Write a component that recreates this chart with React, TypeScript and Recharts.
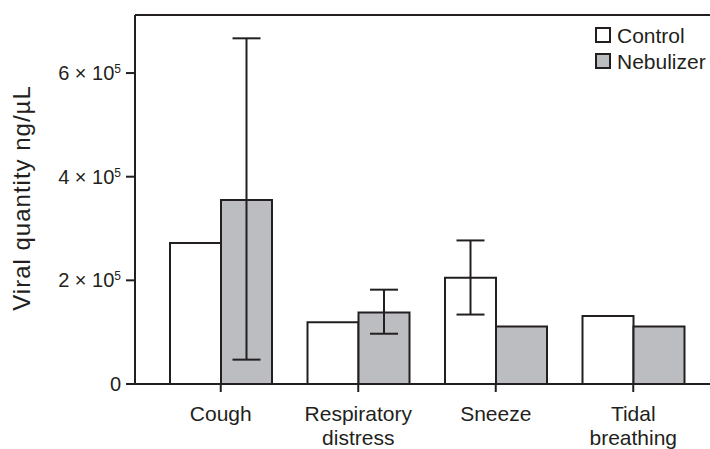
import { BarChart, Bar, XAxis, YAxis, ErrorBar, ReferenceLine } from 'recharts';

const categories = ['Cough', 'Respiratory\ndistress', 'Sneeze', 'Tidal\nbreathing'];
const controlValues = [272000, 119000, 205000, 131000];
const controlErrors: (number[] | null)[] = [null, null, [71000, 72000], null];
const nebulizerValues = [355000, 138000, 111000, 111000];
const nebulizerErrors: (number[] | null)[] = [[308000, 312000], [41000, 44000], null, null];
const yTicks = [0, 200000, 400000, 600000];
const Y_MAX = 712000;

const INK = '#231f20';
const GRAY = '#bcbdc0';
const FONT = '"Liberation Sans", Arial, sans-serif';

const data = categories.map((c, i) => ({
    name: c,
    control: controlValues[i],
    controlErr: controlErrors[i],
    nebulizer: nebulizerValues[i],
    nebulizerErr: nebulizerErrors[i],
}));

function YTick({ x, y, payload }: any) {
    const v = payload.value as number;
    if (v === 0) {
        return (
            <text x={x - 3} y={y + 7} textAnchor="end" fontSize={20} fill={INK} fontFamily={FONT}>0</text>
        );
    }
    const m = v / 100000;
    return (
        <text x={x - 3} y={y + 7} textAnchor="end" fontSize={20} fill={INK} fontFamily={FONT}>
            {m} × 10<tspan dy={-7} fontSize={12}>5</tspan>
        </text>
    );
}

function XTick({ x, y, payload }: any) {
    const lines = String(payload.value).split('\n');
    return (
        <text x={x} y={y + 27} textAnchor="middle" fontSize={21} fill={INK} fontFamily={FONT}>
            {lines.map((l, i) => (
                <tspan key={i} x={x} dy={i === 0 ? 0 : 24}>{l}</tspan>
            ))}
        </text>
    );
}

function YLabel() {
    return (
        <text
            x={30}
            y={198}
            transform="rotate(-90 30 198)"
            textAnchor="middle"
            fontSize={24}
            letterSpacing={1}
            fill={INK}
            fontFamily={FONT}
        >
            Viral quantity ng/µL
        </text>
    );
}

function LegendBox() {
    const items = [
        { label: 'Control', fill: '#ffffff' },
        { label: 'Nebulizer', fill: GRAY },
    ];
    return (
        <div style={{ position: 'absolute', left: 595, top: 22, fontFamily: FONT, fontSize: 21, color: INK, lineHeight: 1 }}>
            {items.map(it => (
                <div key={it.label} style={{ display: 'flex', alignItems: 'center', height: 26 }}>
                    <span style={{ width: 12, height: 12, border: `2px solid ${INK}`, background: it.fill, marginRight: 6, display: 'inline-block' }} />
                    <span>{it.label}</span>
                </div>
            ))}
        </div>
    );
}

export default function App() {
    return (
        <div style={{ position: 'absolute', left: 0, top: 0, width: 710, height: 449, background: '#fff', overflow: 'hidden' }}>
            <BarChart
                width={710}
                height={449}
                data={data}
                margin={{ top: 15, right: 0, left: 0, bottom: 35 }}
                barCategoryGap={18}
                barGap={0}
            >
                <XAxis
                    dataKey="name"
                    interval={0}
                    height={30}
                    padding={{ left: 17, right: 8 }}
                    stroke={INK}
                    strokeWidth={2}
                    tickSize={8}
                    tick={<XTick />}
                />
                <YAxis
                    width={135}
                    domain={[0, Y_MAX]}
                    ticks={yTicks}
                    stroke={INK}
                    strokeWidth={2}
                    tickSize={9}
                    tick={<YTick />}
                    label={<YLabel />}
                />
                <ReferenceLine y={Y_MAX} stroke={INK} strokeWidth={2} />
                <Bar dataKey="control" name="Control" fill="#ffffff" stroke={INK} strokeWidth={2} isAnimationActive={false}>
                    <ErrorBar dataKey="controlErr" width={14} stroke={INK} strokeWidth={2} />
                </Bar>
                <Bar dataKey="nebulizer" name="Nebulizer" fill={GRAY} stroke={INK} strokeWidth={2} isAnimationActive={false}>
                    <ErrorBar dataKey="nebulizerErr" width={14} stroke={INK} strokeWidth={2} />
                </Bar>
            </BarChart>
            <LegendBox />
        </div>
    );
}
